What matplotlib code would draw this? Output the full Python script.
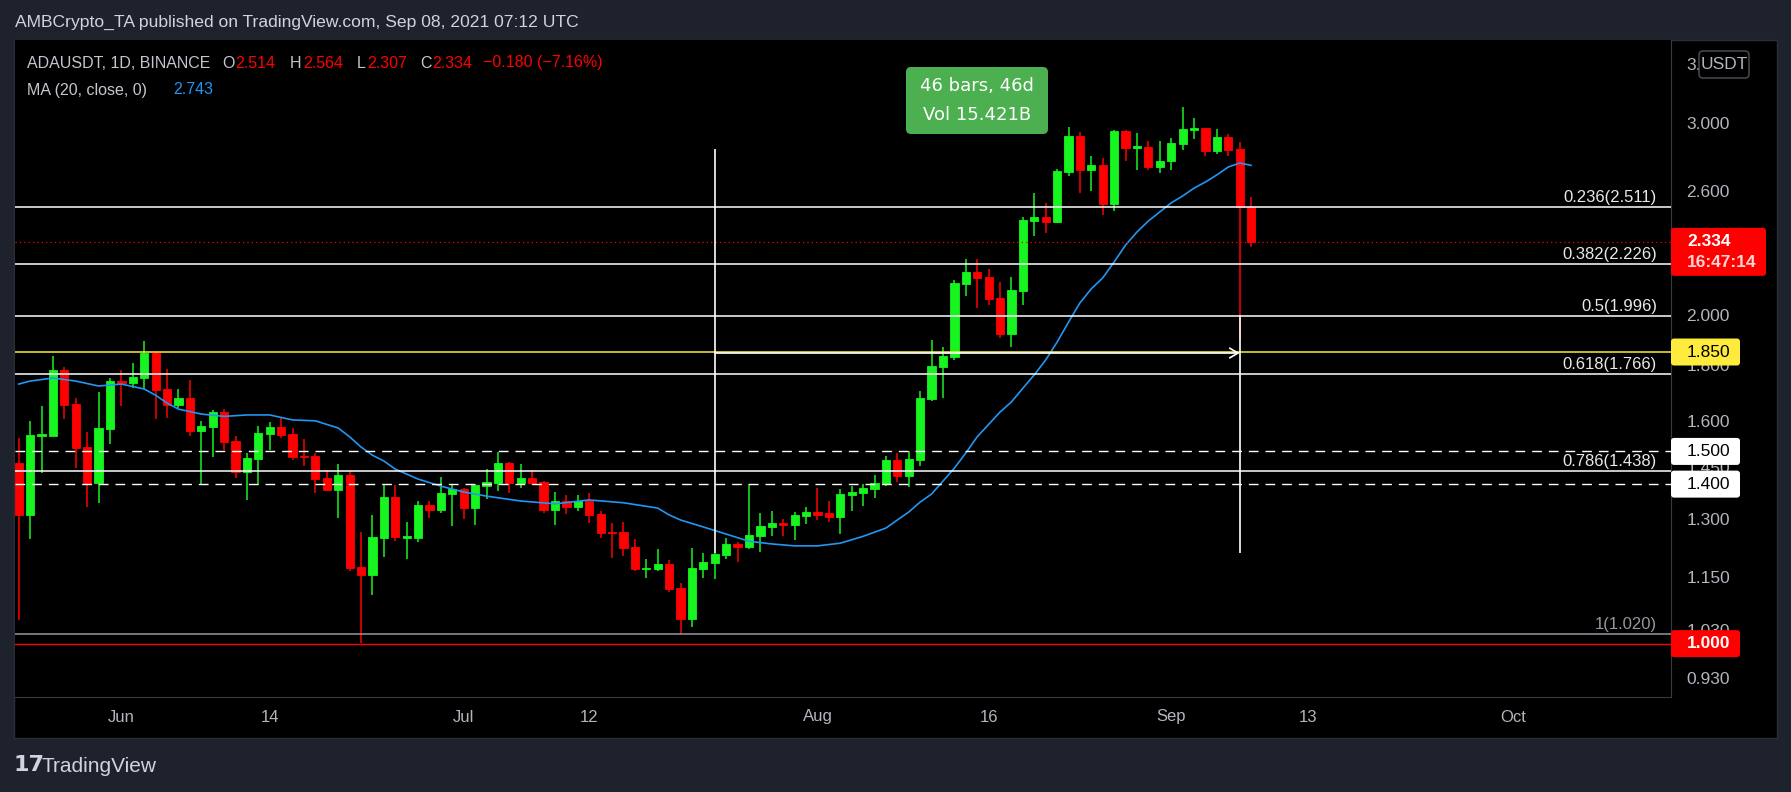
import numpy as np
import pandas as pd
import matplotlib
matplotlib.use("Agg")
import matplotlib.pyplot as plt
import matplotlib.dates as mdates
from matplotlib.patches import Rectangle, FancyBboxPatch
from matplotlib.ticker import NullLocator
from matplotlib.transforms import blended_transform_factory, offset_copy, IdentityTransform

# ADA/USDT daily candles, BINANCE, 2021-05-23 .. 2021-09-08
start_date = "2021-05-23"
opens = [1.464, 1.312, 1.550, 1.550, 1.781, 1.658, 1.514, 1.403, 1.572, 1.740,
         1.733, 1.751, 1.846, 1.711, 1.654, 1.679, 1.566, 1.579, 1.630, 1.534,
         1.436, 1.476, 1.555, 1.579, 1.555, 1.485, 1.485, 1.418, 1.383, 1.427,
         1.175, 1.156, 1.249, 1.362, 1.250, 1.249, 1.340, 1.326, 1.371, 1.386,
         1.332, 1.394, 1.403, 1.464, 1.403, 1.418, 1.406, 1.326, 1.351, 1.334,
         1.351, 1.315, 1.266, 1.266, 1.226, 1.170, 1.170, 1.183, 1.125, 1.053,
         1.170, 1.186, 1.206, 1.234, 1.226, 1.255, 1.279, 1.290, 1.285, 1.309,
         1.320, 1.318, 1.306, 1.368, 1.374, 1.386, 1.400, 1.473, 1.424, 1.473,
         1.675, 1.792, 1.830, 2.136, 2.190, 2.167, 2.074, 1.921, 2.105, 2.439,
         2.460, 2.434, 2.705, 2.918, 2.716, 2.745, 2.529, 2.949, 2.845, 2.851,
         2.733, 2.768, 2.869, 2.955, 2.968, 2.827, 2.911, 2.839, 2.514]
highs = [1.544, 1.600, 1.651, 1.834, 1.792, 1.679, 1.562, 1.700, 1.751, 1.781,
         1.807, 1.893, 1.850, 1.785, 1.711, 1.744, 1.600, 1.637, 1.640, 1.550,
         1.495, 1.583, 1.596, 1.613, 1.576, 1.540, 1.495, 1.442, 1.461, 1.439,
         1.266, 1.312, 1.400, 1.397, 1.292, 1.351, 1.351, 1.421, 1.400, 1.389,
         1.400, 1.445, 1.498, 1.466, 1.461, 1.442, 1.409, 1.377, 1.368, 1.368,
         1.374, 1.323, 1.290, 1.292, 1.247, 1.196, 1.221, 1.193, 1.137, 1.223,
         1.211, 1.210, 1.249, 1.239, 1.400, 1.318, 1.323, 1.301, 1.320, 1.334,
         1.389, 1.351, 1.386, 1.394, 1.400, 1.427, 1.485, 1.495, 1.501, 1.703,
         1.897, 1.870, 2.154, 2.251, 2.251, 2.204, 2.145, 2.167, 2.460, 2.588,
         2.534, 2.722, 2.974, 2.943, 2.797, 2.786, 2.955, 2.955, 2.936, 2.887,
         2.887, 2.905, 3.102, 3.031, 2.970, 2.961, 2.930, 2.881, 2.564]
lows = [1.051, 1.247, 1.434, 1.548, 1.606, 1.449, 1.334, 1.345, 1.524, 1.651,
        1.714, 1.711, 1.606, 1.610, 1.644, 1.550, 1.397, 1.482, 1.504, 1.418,
        1.354, 1.397, 1.504, 1.543, 1.473, 1.454, 1.374, 1.380, 1.304, 1.165,
        1.001, 1.108, 1.201, 1.241, 1.196, 1.239, 1.304, 1.318, 1.282, 1.301,
        1.285, 1.357, 1.380, 1.374, 1.389, 1.397, 1.318, 1.285, 1.315, 1.323,
        1.290, 1.249, 1.198, 1.203, 1.165, 1.149, 1.165, 1.115, 1.020, 1.036,
        1.149, 1.146, 1.196, 1.188, 1.221, 1.213, 1.255, 1.255, 1.244, 1.287,
        1.298, 1.292, 1.260, 1.323, 1.337, 1.360, 1.394, 1.406, 1.391, 1.454,
        1.668, 1.679, 1.819, 2.082, 2.030, 2.043, 1.905, 1.870, 2.043, 2.363,
        2.378, 2.429, 2.682, 2.588, 2.599, 2.470, 2.491, 2.768, 2.716, 2.716,
        2.699, 2.716, 2.833, 2.899, 2.797, 2.809, 2.797, 1.900, 2.307]
closes = [1.312, 1.553, 1.555, 1.781, 1.654, 1.511, 1.400, 1.576, 1.740, 1.732,
          1.755, 1.846, 1.707, 1.654, 1.679, 1.566, 1.583, 1.630, 1.530, 1.436,
          1.479, 1.559, 1.579, 1.553, 1.482, 1.482, 1.415, 1.383, 1.427, 1.173,
          1.156, 1.252, 1.362, 1.252, 1.255, 1.340, 1.326, 1.374, 1.386, 1.332,
          1.397, 1.406, 1.464, 1.403, 1.418, 1.403, 1.326, 1.351, 1.334, 1.351,
          1.312, 1.263, 1.263, 1.223, 1.170, 1.173, 1.183, 1.122, 1.053, 1.173,
          1.188, 1.208, 1.234, 1.226, 1.257, 1.282, 1.290, 1.285, 1.312, 1.320,
          1.312, 1.306, 1.371, 1.377, 1.389, 1.403, 1.473, 1.424, 1.476, 1.679,
          1.796, 1.834, 2.140, 2.190, 2.163, 2.069, 1.921, 2.109, 2.444, 2.460,
          2.434, 2.710, 2.918, 2.716, 2.745, 2.529, 2.949, 2.845, 2.857, 2.733,
          2.768, 2.875, 2.961, 2.968, 2.827, 2.911, 2.833, 2.514, 2.334]

# MA(20, close) at these candle numbers
ma_idx = [0, 1, 3, 5, 7, 9, 11, 12, 13, 14, 16, 18, 20, 22, 24, 26, 28, 29, 30, 31,
          32, 33, 35, 37, 39, 41, 44, 47, 50, 53, 56, 57, 58, 60, 62, 64, 66, 68, 70, 72,
          74, 76, 77, 78, 79, 80, 81, 82, 83, 84, 86, 87, 88, 89, 90, 91, 92, 93, 94, 95,
          96, 97, 98, 99, 100, 101, 102, 103, 104, 105, 106, 107, 108]
ma_vals = [1.729, 1.740, 1.751, 1.740, 1.722, 1.729, 1.711, 1.689, 1.661, 1.640,
           1.623, 1.615, 1.620, 1.620, 1.603, 1.600, 1.576, 1.547, 1.514, 1.488,
           1.470, 1.445, 1.415, 1.394, 1.377, 1.365, 1.351, 1.343, 1.354, 1.346,
           1.331, 1.312, 1.298, 1.279, 1.260, 1.241, 1.234, 1.229, 1.229, 1.236,
           1.254, 1.276, 1.298, 1.320, 1.348, 1.371, 1.409, 1.448, 1.495, 1.547,
           1.630, 1.665, 1.714, 1.763, 1.819, 1.889, 1.970, 2.052, 2.114, 2.163,
           2.237, 2.318, 2.383, 2.439, 2.486, 2.534, 2.571, 2.614, 2.648, 2.688,
           2.733, 2.756, 2.743]

fib_levels = [2.511, 2.226, 1.996, 1.766, 1.438]
fib_labels = ["0.236(2.511)", "0.382(2.226)", "0.5(1.996)", "0.618(1.766)", "0.786(1.438)"]
fib_base = 1.020
support_lines = [1.500, 1.400]
yellow_level = 1.850
red_level = 1.000
last_price = 2.334

price_ticks = [0.93, 1.03, 1.15, 1.30, 1.45, 1.60, 1.80, 2.00, 2.60, 3.00, 3.40]
# the top tick is mostly covered by the currency box, only "3." shows
price_tick_labels = ["0.930", "1.030", "1.150", "1.300", "1.450", "1.600", "1.800",
                     "2.000", "2.600", "3.000", "3."]
date_ticks = ["2021-06-01", "2021-06-14", "2021-07-01", "2021-07-12", "2021-08-01",
              "2021-08-16", "2021-09-01", "2021-09-13", "2021-10-01"]
date_labels = ["Jun", "14", "Jul", "12", "Aug", "16", "Sep", "13", "Oct"]

GREEN = "#16f51f"
RED = "#ff0000"
BG = "#1e222d"
GRAYTXT = "#b2b5be"
HEADTXT = "#c3c6ce"
LINE = "#2a2e39"

W, H = 1791, 792


def fx(x):
    return x / W


def fy(y):
    return 1 - y / H


fig = plt.figure(figsize=(W / 100, H / 100), dpi=100, facecolor=BG)

# black chart panel
fig.add_artist(Rectangle((fx(14), fy(738)), fx(1777) - fx(14), fy(40) - fy(738),
                         transform=fig.transFigure, facecolor="black",
                         edgecolor=LINE, lw=1, zorder=-5))

ax = fig.add_axes([fx(15), fy(697), fx(1671) - fx(15), fy(40) - fy(697)])
ax.set_facecolor("black")
for s in ["left", "top"]:
    ax.spines[s].set_visible(False)
for s in ["right", "bottom"]:
    ax.spines[s].set_color("#363a45")

dates = pd.date_range(start_date, periods=len(opens), freq="D")
x = mdates.date2num(dates)
o = np.array(opens)
h = np.array(highs)
l = np.array(lows)
c = np.array(closes)
colors = np.where(c >= o, GREEN, RED)

ax.set_yscale("log")
ax.set_ylim(0.8935, 3.573)
ax.set_xlim(x[0] - 0.324, x[0] + 144.8)

# candles
ax.vlines(x, l, h, colors=colors, lw=1.1, zorder=3)
ax.bar(x, np.abs(c - o), width=0.72, bottom=np.minimum(o, c), color=colors,
       edgecolor=colors, linewidth=0.6, zorder=4)

# moving average
ax.plot(x[ma_idx], ma_vals, color="#2196f3", lw=1.2, zorder=4.5)

# drawings
for lv in fib_levels:
    ax.axhline(lv, color="white", lw=1.1, zorder=5)
ax.axhline(fib_base, color="#9598a1", lw=1.1, zorder=5)
ax.axhline(red_level, color=RED, lw=1.0, zorder=5)
for lv in support_lines:
    ax.axhline(lv, color="white", lw=1.0, ls=(0, (7, 5)), zorder=5)
ax.axhline(yellow_level, color="#ffeb3b", lw=1.1, zorder=5)
ax.axhline(last_price, color=RED, lw=0.9, ls=(0, (1, 2.5)), zorder=5)

# date range measure
x_start = mdates.date2num(pd.Timestamp("2021-07-23"))
x_end = mdates.date2num(pd.Timestamp("2021-09-07"))
ax.vlines(x_start, 1.21, 2.842, color="white", lw=1.2, zorder=6)
ax.vlines(x_end, 1.21, 2.0, color="white", lw=1.2, zorder=6)
ax.annotate("", xy=(x_end, 1.846), xytext=(x_start, 1.846),
            arrowprops=dict(arrowstyle="->,head_length=0.6,head_width=0.35",
                            color="white", lw=1.2, shrinkA=0, shrinkB=0), zorder=6)

# fib labels
blend = blended_transform_factory(fig.transFigure, ax.transData)
lab_tr = offset_copy(blend, fig=fig, y=10, units="dots")
for lv, txt in zip(fib_levels, fib_labels):
    ax.text(fx(1657), lv, txt, transform=lab_tr, ha="right", va="center",
            fontsize=12, color="#e8e8e8", family="Liberation Sans", zorder=7)
ax.text(fx(1657), fib_base, "1(1.020)", transform=lab_tr, ha="right", va="center",
        fontsize=12, color="#9598a1", family="Liberation Sans", zorder=7)

# axes ticks
ax.yaxis.tick_right()
ax.set_yticks(price_ticks, labels=price_tick_labels)
ax.yaxis.set_minor_locator(NullLocator())
ax.tick_params(axis="y", which="both", length=0, pad=11, labelsize=12.5,
               labelcolor=GRAYTXT)
for t in ax.get_yticklabels():
    t.set_family("Liberation Sans")
ax.set_xticks(mdates.date2num(pd.to_datetime(date_ticks)), labels=date_labels)
ax.xaxis.set_minor_locator(NullLocator())
ax.tick_params(axis="x", length=0, pad=9, labelsize=12, labelcolor=GRAYTXT)
for t in ax.get_xticklabels():
    t.set_family("Liberation Sans")


# price boxes on the right scale (display pixels)
def price_y(p):
    return ax.transData.transform((x[0], p))[1]


def axis_box(p, txt, face, tcolor, width=69, height=27, bold=False, sub=None):
    yc = price_y(p)
    if sub is None:
        y0 = yc - height / 2
    else:
        y0 = yc - 34
        height = 48
    box = FancyBboxPatch((1671, y0), width, height, transform=IdentityTransform(),
                         boxstyle="round,pad=0,rounding_size=3",
                         facecolor=face, edgecolor="none", zorder=8)
    fig.add_artist(box)
    fig.text(1687 / W, yc / H, txt, color=tcolor, fontsize=12.5, va="center",
             ha="left", family="Liberation Sans",
             fontweight="bold" if bold else "normal", zorder=9)
    if sub is not None:
        fig.text(1687 / W, (yc - 20.5) / H, sub, color="#ffd6d6", fontsize=12.5,
                 va="center", ha="left", family="Liberation Sans",
                 fontweight="bold", zorder=9)


axis_box(last_price, "2.334", RED, "white", width=95, bold=True, sub="16:47:14")
axis_box(yellow_level, "1.850", "#ffeb3b", "black")
axis_box(1.500, "1.500", "white", "black")
axis_box(1.400, "1.400", "white", "black")
axis_box(red_level, "1.000", RED, "white", bold=True)

# currency box
fig.add_artist(FancyBboxPatch((1699, H - 78), 50, 27, transform=IdentityTransform(),
                              boxstyle="round,pad=0,rounding_size=4",
                              facecolor="black", edgecolor="#50535e", lw=1, zorder=8))
fig.text(fx(1724), fy(64.5), "USDT", color=GRAYTXT, fontsize=12.5, ha="center",
         va="center", family="Liberation Sans", zorder=9)

# green measure box
fig.add_artist(FancyBboxPatch((906, H - 134), 142, 67, transform=IdentityTransform(),
                              boxstyle="round,pad=0,rounding_size=5",
                              facecolor="#4caf50", edgecolor="none", zorder=8))
fig.text(fx(977), fy(86), "46 bars, 46d", color="white", fontsize=13, ha="center",
         va="center", family="DejaVu Sans", zorder=9)
fig.text(fx(977), fy(115), "Vol 15.421B", color="white", fontsize=13, ha="center",
         va="center", family="DejaVu Sans", zorder=9)

# header texts
fig.text(fx(15), fy(22), "AMBCrypto_TA published on TradingView.com, Sep 08, 2021 07:12 UTC",
         color="#d1d4dc", fontsize=12.6, va="center", ha="left", family="Liberation Sans")

legend_line1 = [("ADAUSDT, 1D, BINANCE", HEADTXT, 27), ("O", HEADTXT, 222),
                ("2.514", RED, 235), ("H", HEADTXT, 290), ("2.564", RED, 303),
                ("L", HEADTXT, 357), ("2.307", RED, 367), ("C", HEADTXT, 420.5),
                ("2.334", RED, 432), ("\u22120.180 (\u22127.16%)", RED, 483)]
legend_line2 = [("MA (20, close, 0)", HEADTXT, 27), ("2.743", "#2196f3", 173)]
for parts, yy in [(legend_line1, 63), (legend_line2, 90)]:
    for s, col, xx in parts:
        fig.text(fx(xx), fy(yy), s, color=col, fontsize=11.5, va="center", ha="left",
                 family="Liberation Sans")

# footer logo
fig.text(fx(14), fy(765), "17", color="#d1d4dc", fontsize=16, fontweight="heavy",
         va="center", ha="left", family="DejaVu Sans")
fig.text(fx(42), fy(766), "TradingView", color="#d1d4dc", fontsize=15,
         va="center", ha="left", family="Liberation Sans")

fig.savefig("out.png", dpi=100, facecolor=BG)
